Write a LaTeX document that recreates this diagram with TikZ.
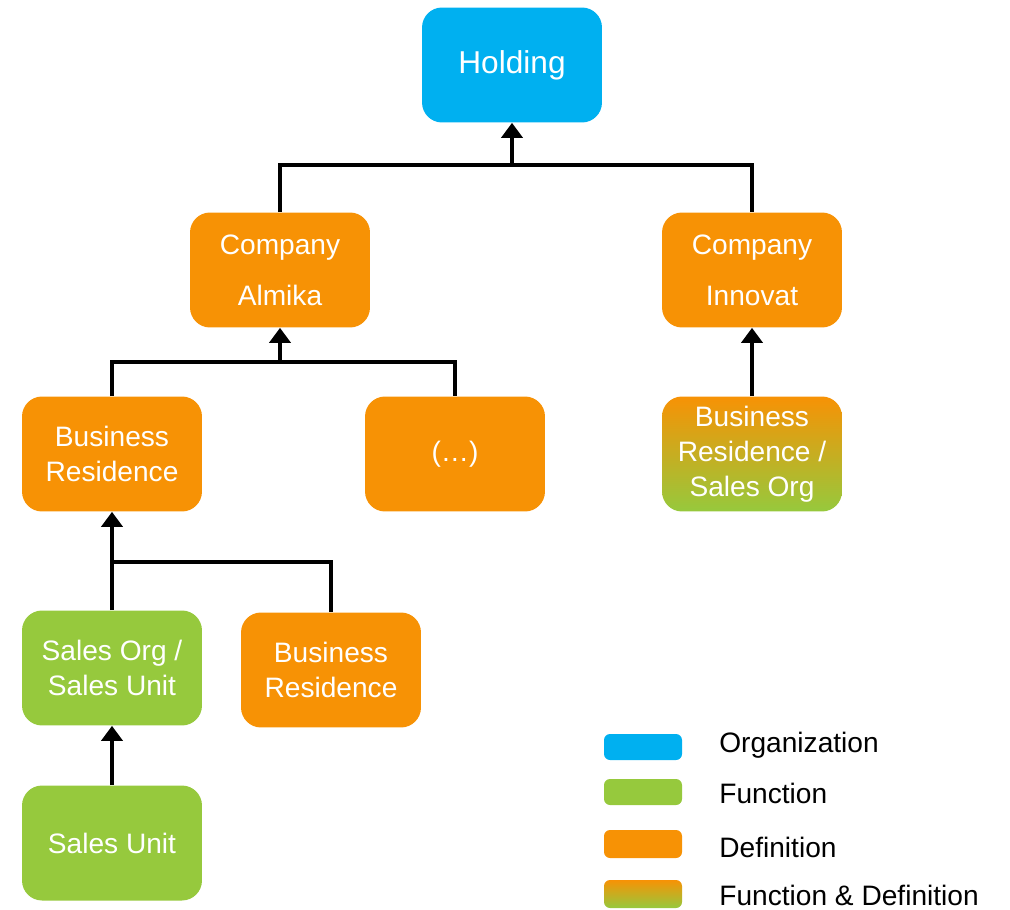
\documentclass[tikz,border=0pt]{standalone}
\usepackage{fontspec}
\setmainfont{Liberation Sans}
\usetikzlibrary{arrows.meta}
\definecolor{orgblue}{HTML}{00B0F0}
\definecolor{fungreen}{HTML}{96C93D}
\definecolor{deforange}{HTML}{F79205}
\tikzset{
  unit/.style={rounded corners=0.4cm, minimum width=3.6cm, minimum height=2.3cm,
    inner sep=0pt, text=white, align=center, font=\fontsize{16}{20}\selectfont},
  orgbox/.style={unit, fill=orgblue},
  funbox/.style={unit, fill=fungreen},
  defbox/.style={unit, fill=deforange},
  mixbox/.style={unit, top color=deforange, bottom color=fungreen},
  link/.style={line width=2.6pt},
  up/.style={link, -{Triangle[width=0.42cm,length=0.3cm]}},
  swatch/.style={rounded corners=0.12cm, minimum width=1.56cm, inner sep=0pt},
  legtext/.style={anchor=west, inner sep=0pt, font=\fontsize{16}{20}\selectfont}
}

\begin{document}
\begin{tikzpicture}[x=0.02cm, y=-0.02cm]
\useasboundingbox (0,0) rectangle (1010,909);
% Boxes
\node[orgbox, font=\fontsize{18}{22}\selectfont] (holding) at (512,65) {Holding};
\node[defbox] (almika) at (280,270) {Company\\[9pt]Almika};
\node[defbox] (innovat) at (752,270) {Company\\[9pt]Innovat};
\node[defbox] (resid) at (112,454) {Business\\Residence};
\node[defbox] (etc) at (455,454) {(\dots)};
\node[mixbox] (mixres) at (752,454) {Business\\Residence /\\Sales Org};
\node[funbox] (salesorg) at (112,668) {Sales Org /\\Sales Unit};
\node[defbox] (resid2) at (331,670) {Business\\Residence};
\node[funbox] (salesunit) at (112,843) {Sales Unit};
% Join points
\coordinate (jtop) at (512,165);
\coordinate (jmid) at (280,362);
\coordinate (jlow) at (112,562);
% Connectors
\draw[link] (almika.north) |- (jtop) -| (innovat.north);
\draw[up] (jtop) -- (holding.south);
\draw[link] (resid.north) |- (jmid) -| (etc.north);
\draw[up] (jmid) -- (almika.south);
\draw[up] (mixres) -- (innovat.south);
\draw[link] (jlow) -| (resid2.north);
\draw[up] (salesorg.north) -- (resid.south);
\draw[up] (salesunit.north) -- (salesorg.south);
% Legend
\node[swatch, fill=orgblue, minimum height=0.52cm] (korg) at (643,747) {};
\node[swatch, fill=fungreen, minimum height=0.52cm] (kfun) at (643,792) {};
\node[swatch, fill=deforange, minimum height=0.56cm] (kdef) at (643,844) {};
\node[swatch, top color=deforange, bottom color=fungreen, minimum height=0.56cm] (kmix) at (643,894) {};
\node[legtext] (lorg) at (719,745) {Organization};
\node[legtext] (lfun) at (719,793) {Function};
\node[legtext] (ldef) at (719,847) {Definition};
\node[legtext] (lmix) at (719,895) {Function \& Definition};
\end{tikzpicture}
\end{document}
